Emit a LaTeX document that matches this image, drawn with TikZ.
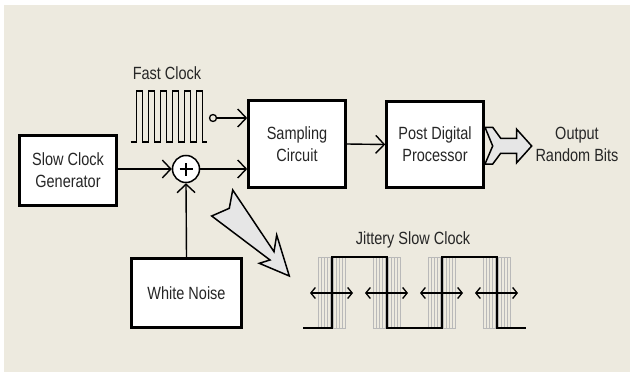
\documentclass[tikz,border=0pt]{standalone}
\usepackage{fontspec}
\setmainfont{Liberation Sans}
\usepackage{graphicx}
\usetikzlibrary{arrows.meta}
\definecolor{bgc}{RGB}{237,234,223}
\definecolor{arrfill}{RGB}{230,230,230}
\definecolor{jit}{RGB}{185,185,185}
\newcommand{\tall}[1]{\scalebox{1}[1.22]{#1}}
\begin{document}
\begin{tikzpicture}[x=1pt,y=-1pt,
  txt/.style={align=center,font=\fontsize{14.5}{22}\selectfont,text=black!85},
  box/.style={txt,draw,line width=2.6pt,fill=white,inner sep=0pt},
  conn/.style={line width=1.4pt,-{Straight Barb[length=8.5pt,width=18pt,line width=1.4pt]}},
  jarr/.style={line width=1.3pt,{Straight Barb[length=4.5pt,width=11pt,line width=1.3pt]}-{Straight Barb[length=4.5pt,width=11pt,line width=1.3pt]}},
  wave/.style={line width=1.3pt,line join=miter},
  fat/.style={line width=1.5pt,fill=arrfill,line join=miter}]
\useasboundingbox (0,0) rectangle (630,372);
\fill[bgc] (4,5) rectangle (630,372);

% blocks
\node[box,minimum width=97pt,minimum height=70pt] (scg) at (68,170.5) {\tall{Slow Clock}\\\tall{Generator}};
\node[box,minimum width=97pt,minimum height=87pt] (sc) at (297,144) {\tall{Sampling}\\\tall{Circuit}};
\node[box,minimum width=97pt,minimum height=86pt] (pdp) at (435,144.5) {\tall{Post Digital}\\\tall{Processor}};
\node[box,minimum width=110pt,minimum height=69pt] (wn) at (186.5,293) {\tall{White Noise}};
\node[circle,draw,line width=1.5pt,fill=white,minimum size=27pt,inner sep=0pt] (sum) at (186,169) {};
\draw[line width=1.8pt] ([xshift=-6.5pt]sum.center) -- ([xshift=6.5pt]sum.center);
\draw[line width=1.8pt] ([yshift=-6.5pt]sum.center) -- ([yshift=6.5pt]sum.center);

% fast clock
\node[txt] (fclbl) at (167,73) {\tall{Fast Clock}};
\draw[wave] (130.7,142) \foreach \i in {0,...,5} { -- ({136.7+11.9*\i},142) -- ({136.7+11.9*\i},91) -- ({142.7+11.9*\i},91) -- ({142.7+11.9*\i},142) } -- (207,142);
\node[circle,draw,line width=1.3pt,fill=bgc,minimum size=7pt,inner sep=0pt] (fc) at (213,118) {};

% connectors
\draw[conn] (fc.east) -- (fc.east -| sc.west);
\draw[conn] (scg.east |- sum.west) -- (sum.west);
\draw[conn] (sum.east) -- (sum.east -| sc.west);
\draw[conn] (wn.north) -- (sum.south);
\draw[conn] (sc.east) -- (pdp.west);

% output fat arrow
\draw[fat] (485,127.3) -- (492.7,127.3) -- (500.7,138.3) -- (516.7,138.3) -- (516.7,129.3) -- (531.7,146) -- (516.7,162.7) -- (516.7,153.3) -- (500.7,153.3) -- (492.7,164) -- (485,164) -- (492.7,146) -- cycle;
\node[txt] (out) at (577,144) {\tall{Output}\\\tall{Random Bits}};

% big gray arrow
\draw[fat] (232.7,190) -- (229.3,208.3) -- (211.7,216) -- (270,260) -- (259.3,263.3) -- (289.3,276) -- (276.7,235) -- (274,251.7) -- cycle;

% jittery slow clock
\node[txt] (jlbl) at (413,240) {\tall{Jittery Slow Clock}};
\foreach \e in {332,387,442,497} {
  \foreach \k in {-14,-11,...,14} {
    \draw[jit,line width=0.7pt] ({\e+\k},257) -- ({\e+\k},328);
  }
  \draw[jit,line width=0.7pt] ({\e-14},257) -- ({\e+14},257);
  \draw[jit,line width=0.7pt] ({\e-14},328) -- ({\e+14},328);
}
\draw[line width=2.6pt,line join=miter] (303,328) -- (332,328) -- (332,257) -- (387,257) -- (387,328) -- (442,328) -- (442,257) -- (497,257) -- (497,328) -- (526,328);
\foreach \e in {332,387,442,497} {
  \draw[jarr] ({\e-22},293) -- ({\e+21},293);
}
\end{tikzpicture}
\end{document}
